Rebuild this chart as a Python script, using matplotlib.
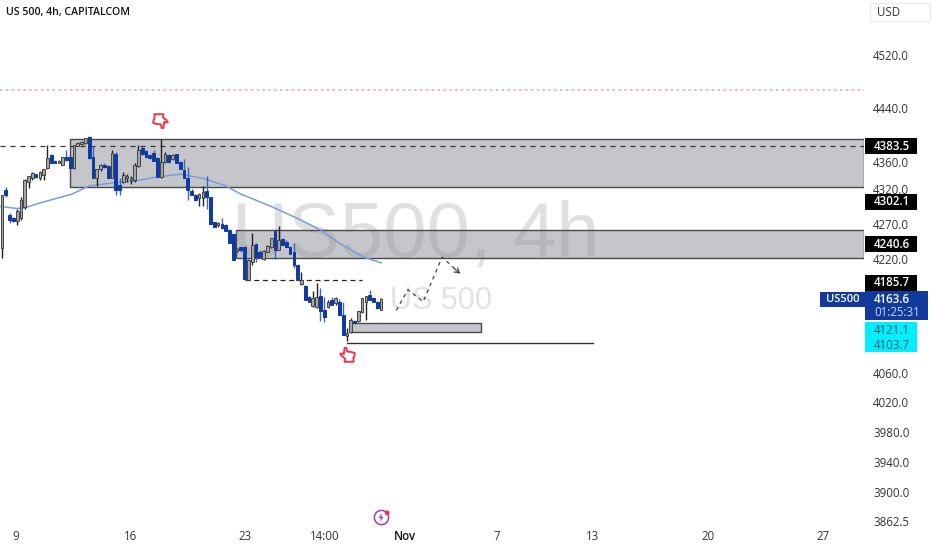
import matplotlib
matplotlib.use('Agg')
import matplotlib.pyplot as plt
from matplotlib.patches import Rectangle
from matplotlib.path import Path
from matplotlib.ticker import NullLocator, NullFormatter
from matplotlib.transforms import blended_transform_factory

plt.rcParams['font.family'] = ['Open Sans', 'DejaVu Sans']

# 4h candles
opens = [4235, 4319, 4282, 4279, 4274, 4279, 4294, 4331, 4336, 4342, 4336, 4341, 4351, 4370, 4362, 4359, 4356,
         4367, 4367, 4351, 4384, 4386, 4388, 4397, 4367, 4336, 4350, 4356, 4354, 4337, 4372, 4326, 4331, 4337,
         4334, 4334, 4354, 4380, 4376, 4370, 4373, 4366, 4338, 4360, 4370, 4365, 4371, 4360, 4348, 4337, 4317,
         4312, 4307, 4307, 4317, 4308, 4272, 4268,
         4269, 4268, 4261, 4255, 4231, 4236, 4236, 4190, 4215, 4241, 4230, 4219, 4230, 4236, 4259, 4233, 4248,
         4244, 4237, 4230, 4211, 4184, 4181, 4165, 4153, 4151, 4167, 4148, 4151, 4162, 4157, 4159, 4141, 4111,
         4117, 4132, 4132, 4145, 4158, 4168, 4164, 4159, 4148]
highs = [4312, 4323, 4286, 4280, 4291, 4308, 4335, 4340, 4345, 4343, 4346, 4350, 4385, 4372, 4363, 4363, 4368,
         4378, 4368, 4385, 4389, 4391, 4396, 4399, 4384, 4350, 4357, 4358, 4356, 4378, 4374, 4337, 4345, 4342,
         4339, 4358, 4385, 4384, 4378, 4372, 4378, 4367, 4394, 4375, 4372, 4372, 4372, 4362, 4364, 4352, 4320,
         4313, 4315, 4325, 4339, 4309, 4273, 4273,
         4278, 4269, 4263, 4256, 4235, 4237, 4238, 4219, 4256, 4243, 4232, 4232, 4239, 4250, 4260, 4267, 4250,
         4246, 4238, 4242, 4213, 4201, 4182, 4167, 4174, 4185, 4179, 4165, 4161, 4165, 4165, 4163, 4159, 4123,
         4136, 4133, 4146, 4164, 4167, 4176, 4165, 4160, 4164]
lows = [4221, 4308, 4271, 4272, 4268, 4276, 4291, 4322, 4333, 4337, 4334, 4334, 4350, 4358, 4358, 4358, 4355,
        4362, 4350, 4350, 4383, 4385, 4386, 4365, 4336, 4325, 4347, 4351, 4336, 4336, 4312, 4312, 4329, 4330,
        4327, 4331, 4352, 4370, 4367, 4365, 4361, 4338, 4337, 4358, 4358, 4363, 4358, 4349, 4336, 4305, 4311,
        4303, 4295, 4296, 4291, 4270, 4265, 4265,
        4263, 4259, 4242, 4218, 4229, 4230, 4191, 4189, 4211, 4215, 4221, 4218, 4229, 4235, 4219, 4232, 4239,
        4236, 4227, 4207, 4189, 4183, 4162, 4158, 4151, 4150, 4132, 4131, 4150, 4155, 4155, 4141, 4113, 4104,
        4116, 4128, 4131, 4143, 4134, 4162, 4158, 4149, 4147]
closes = [4312, 4312, 4276, 4274, 4288, 4305, 4334, 4339, 4344, 4338, 4345, 4349, 4366, 4359, 4359, 4362, 4367,
          4363, 4351, 4385, 4388, 4390, 4395, 4366, 4337, 4349, 4355, 4352, 4337, 4373, 4319, 4319, 4341, 4339,
          4337, 4355, 4377, 4371, 4368, 4366, 4362, 4338, 4360, 4372, 4360, 4370, 4359, 4350, 4337, 4319, 4311,
          4304, 4313, 4316, 4308, 4270, 4265, 4271,
          4264, 4260, 4242, 4218, 4234, 4232, 4191, 4218, 4239, 4222, 4222, 4231, 4238, 4249, 4233, 4247, 4240,
          4237, 4227, 4211, 4189, 4190, 4162, 4158, 4164, 4165, 4146, 4138, 4159, 4155, 4164, 4141, 4113, 4116,
          4134, 4129, 4146, 4164, 4167, 4162, 4158, 4150, 4163]

# moving average
ma_bars = [-0.5, 4, 6, 10, 18.5, 23, 30.5, 35, 41, 47, 53, 59, 63, 71, 79, 84, 89, 95.5, 100]
ma_vals = [4295, 4292, 4293, 4300, 4313, 4325, 4330, 4332, 4338, 4342, 4336, 4325, 4313, 4295, 4275, 4261, 4242, 4222, 4214]

# drawing: projected path
path_bars = [104, 107.1, 111.1, 116.1, 120.8]
path_vals = [4147, 4176, 4159, 4222, 4199]

price_ticks = [4520, 4440, 4360, 4320, 4270, 4220, 4060, 4020, 3980, 3940, 3900, 3862.5]
price_labels = ['4520.0', '4440.0', '4360.0', '4320.0', '4270.0', '4220.0', '4060.0', '4020.0', '3980.0',
                '3940.0', '3900.0', '3862.5']
time_ticks = [3.7, 33.8, 64.1, 85.2, 106.3, 130.6, 155.7, 186.3, 216.6]
time_labels = ['9', '16', '23', '14:00', 'Nov', '7', '13', '20', '27']

black_tags = [4383.5, 4302.1, 4240.6, 4185.7]
cyan_tags = ['4121.1', '4103.7']
last_price = 4163.6

# zones: left bar, right bar, low, high
zone_left = [18, 61.7, 92]
zone_right = [227.4, 227.4, 126.4]
zone_low = [4323, 4221, 4117]
zone_high = [4394, 4261, 4129]

BLUE = '#0f3aa0'

fig = plt.figure(figsize=(9.32, 5.5), dpi=100)
ax = fig.add_axes([0, 23 / 550, 864 / 932, 527 / 550])
ax.set_yscale('log')
ax.set_xlim(-0.53, 227.4)
ax.set_ylim(3854.5, 4605)
for s in ax.spines.values():
    s.set_visible(False)

# watermarks
ax.text(60.7, 4251, 'US500, 4h', fontsize=56, color='#e0e0e3', va='center', ha='left', zorder=0,
        family=['Liberation Sans', 'DejaVu Sans'])
ax.text(102.4, 4160, 'US 500', fontsize=22, color='#e2e2e4', va='center', ha='left', zorder=0,
        family=['Liberation Sans', 'DejaVu Sans'])

for i in range(3):
    ax.add_patch(Rectangle((zone_left[i], zone_low[i]), zone_right[i] - zone_left[i], zone_high[i] - zone_low[i],
                           facecolor=(0.55, 0.56, 0.58, 0.5), edgecolor='#4a4a4a', lw=1.0, zorder=1))

ax.axhline(4467, color='#f2a6b6', lw=1.2, ls=(0, (1.5, 2)), zorder=1)
ax.axhline(4383.5, color='#333333', lw=0.9, ls=(0, (4, 4)), zorder=2)
ax.plot([64, 95], [4190, 4190], color='#222222', lw=0.9, ls=(0, (4, 3)), zorder=2)
ax.plot([91, 156], [4101, 4101], color='#333333', lw=1.0, zorder=2)

ax.plot(ma_bars, ma_vals, color='#7a9de0', lw=1.1, zorder=3)

# candles
for i in range(len(opens)):
    up = closes[i] >= opens[i]
    ax.vlines(i, lows[i], highs[i], color='#222222' if up else '#3766c4', lw=1.0, zorder=4)
    ax.bar(i, abs(closes[i] - opens[i]), bottom=min(opens[i], closes[i]), width=0.72,
           facecolor='#a6a6a6' if up else BLUE, edgecolor='#444444' if up else BLUE, lw=0.7, zorder=5)

# projected path, solid head on the last bit of it
ax.plot(path_bars, path_vals, color='#444444', lw=0.9, ls=(0, (3, 3)), zorder=3)
ax.annotate('', xy=(path_bars[-1], path_vals[-1]), xytext=(119.3, 4206), zorder=3,
            arrowprops=dict(arrowstyle='->,head_length=0.3,head_width=0.2', color='#444444', lw=0.9,
                            shrinkA=0, shrinkB=0))

# hand icons
hand = Path([(-0.4, 0.9), (-0.15, 0.9), (-0.05, 0.4), (0.5, 0.35), (1, 0.2), (0.95, -0.2), (0.8, -0.5), (0.85, -1),
             (-0.4, -1), (-0.35, -0.55), (-0.8, -0.2), (-1, 0.1), (-0.7, 0.15), (-0.5, 0.05), (-0.4, 0.9)], closed=True)
hand_down = Path(-hand.vertices, closed=True)
ax.scatter([41.7], [4420], marker=hand_down, s=110, facecolor='white', edgecolor='#e8394a', lw=1.4, zorder=6)
ax.scatter([91], [4086], marker=hand, s=110, facecolor='white', edgecolor='#e8394a', lw=1.4, zorder=6)

# flash icon
bolt = Path([(0.2, 1), (-0.6, -0.1), (-0.05, -0.1), (-0.2, -1), (0.6, 0.15), (0.05, 0.15), (0.2, 1)], closed=True)
ax.scatter([100], [3867], marker='o', s=105, facecolor='white', edgecolor='#9c3fb5', lw=1.1, zorder=6)
ax.scatter([100], [3867], marker=bolt, s=36, facecolor='#9c3fb5', edgecolor='none', zorder=7)
ax.scatter([101.6], [3873], marker='o', s=12, facecolor='#e8334a', edgecolor='none', zorder=8)

# axes
ax.yaxis.tick_right()
ax.set_yticks(price_ticks, price_labels)
ax.yaxis.set_minor_locator(NullLocator())
ax.yaxis.set_minor_formatter(NullFormatter())
ax.tick_params(axis='y', length=0, pad=6.5, labelsize=8.3, labelcolor='#333333')
ax.set_xticks(time_ticks, time_labels)
ax.tick_params(axis='x', length=0, pad=2, labelsize=8.3, labelcolor='#333333')
ax.get_xticklabels()[4].set_color('#111111')
ax.get_xticklabels()[4].set_fontweight('semibold')

# price tags on the right
tr = blended_transform_factory(ax.transAxes, ax.transData)
x0, x1, xt = 865 / 864, 917 / 864, 874 / 864
box = 1.0027  # tag half height as a price ratio


def tag(p_top, p_bot, x_end, color):
    ax.add_patch(Rectangle((x0, p_bot), x_end - x0, p_top - p_bot, transform=tr, facecolor=color,
                           edgecolor='none', clip_on=False, zorder=9))


for p in black_tags:
    tag(p * box, p / box, x1, '#000000')
    ax.text(xt, p, f'{p:.1f}', transform=tr, color='white', fontsize=8.3, fontweight='semibold', va='center',
            clip_on=False, zorder=10)

# the two cyan labels are pushed apart on the scale, so they sit at 4119.5 and 4098.6
tag(4130.8, 4089, x1, '#00eeff')
ax.text(xt, 4119.5, cyan_tags[0], transform=tr, color='#0b5560', fontsize=8.3, va='center', clip_on=False, zorder=10)
ax.text(xt, 4098.6, cyan_tags[1], transform=tr, color='#0b5560', fontsize=8.3, va='center', clip_on=False, zorder=10)

tag(4173.7, 4133.5, 928 / 864, '#123a9c')
ax.text(xt, 4162, f'{last_price:.1f}', transform=tr, color='white', fontsize=8.3, fontweight='semibold',
        va='center', clip_on=False, zorder=10)
ax.text(xt, 4143.9, '01:25:31', transform=tr, color='#c8d5f5', fontsize=8.3, va='center', clip_on=False, zorder=10)
ax.add_patch(Rectangle((820 / 864, 4151.6), 45 / 864, 21.4, transform=tr, facecolor='#123a9c', edgecolor='none',
                       clip_on=False, zorder=9))
ax.text(842.5 / 864, 4162, 'US500', transform=tr, color='white', fontsize=8, fontweight='semibold', ha='center',
        va='center', zorder=10)

# header
fig.text(6 / 932, 1 - 12 / 550, 'US 500, 4h, CAPITALCOM', fontsize=7.6, color='#111111', fontweight='semibold',
         va='center', ha='left')
fig.patches.append(Rectangle((870 / 932, 1 - 21 / 550), 60 / 932, 18 / 550, transform=fig.transFigure,
                             facecolor='white', edgecolor='#ececec', lw=1))
fig.text(877 / 932, 1 - 12 / 550, 'USD', fontsize=8.3, color='#333333', va='center', ha='left')

fig.savefig('out.png', dpi=100)
